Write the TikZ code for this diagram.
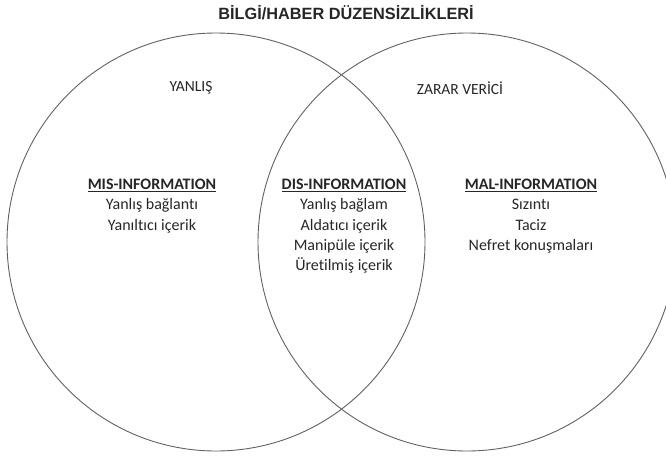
\documentclass[tikz,border=0pt]{standalone}
\usepackage{fontspec}
\setmainfont{Carlito}[Ligatures=NoCommon]
\newfontfamily\titlefont{Liberation Sans}
\begin{document}
\begin{tikzpicture}[x=1pt,y=1pt,
  ring/.style={circle, draw=black!62, line width=0.9pt, minimum size=418pt, inner sep=0pt},
  settext/.style={text=black!85, font=\fontsize{16}{20.3}\selectfont, align=center, inner sep=0pt},
  labeltext/.style={text=black!85, font=\fontsize{15.5}{18}\selectfont, inner sep=0pt}]
\useasboundingbox (0,0) rectangle (666,-455);
\node[ring] (L) at (216,-242) {};
\node[ring] (R) at (467,-242) {};
\node[text=black!85, font=\titlefont\bfseries\fontsize{16.3}{18}\selectfont, inner sep=0pt] (title) at (346,-13) {BİLGİ/HABER DÜZENSİZLİKLERİ};
\node[labeltext] (yanlis) at (191,-88) {YANLIŞ};
\node[labeltext] (zarar) at (460,-88) {ZARAR VERİCİ};
\node[settext, anchor=north] (mis) at (152,-179) {\textbf{\underline{MIS-INFORMATION}}\\Yanlış bağlantı\\Yanıltıcı içerik};
\node[settext, anchor=north] (dis) at (344,-179) {\textbf{\underline{DIS-INFORMATION}}\\Yanlış bağlam\\Aldatıcı içerik\\Manipüle içerik\\Üretilmiş içerik};
\node[settext, anchor=north] (mal) at (531,-179) {\textbf{\underline{MAL-INFORMATION}}\\Sızıntı\\Taciz\\Nefret konuşmaları};
\end{tikzpicture}
\end{document}
